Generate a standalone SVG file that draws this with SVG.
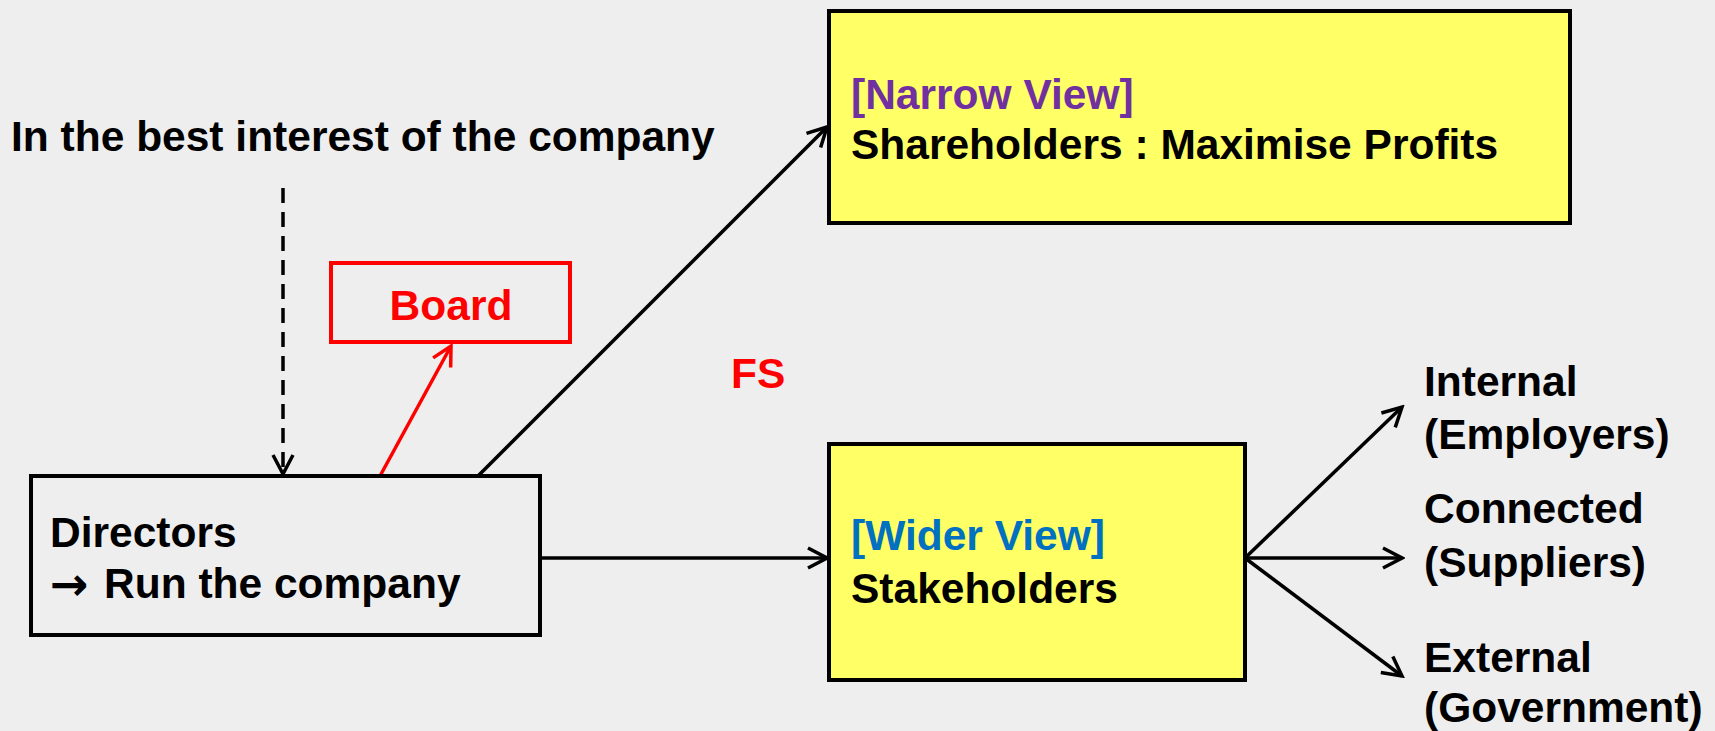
<svg xmlns="http://www.w3.org/2000/svg" width="1715" height="731" viewBox="0 0 1715 731">
<defs>
<style>
.t{font-family:"Liberation Sans",Arial,sans-serif;font-weight:bold;font-size:42.5px;fill:#000}
.box{fill:#ffff66;stroke:#000;stroke-width:4}
.wbox{fill:none;stroke:#000;stroke-width:4}
.ln{stroke:#000;stroke-width:3.5;fill:none}
</style>
<marker id="ah" viewBox="0 0 24 24" refX="21" refY="12" markerWidth="24" markerHeight="24" markerUnits="userSpaceOnUse" orient="auto">
<polyline points="2,2 21,12 2,22" fill="none" stroke="#000" stroke-width="3.5"/>
</marker>
<marker id="ahr" viewBox="0 0 24 24" refX="21" refY="12" markerWidth="24" markerHeight="24" markerUnits="userSpaceOnUse" orient="auto">
<polyline points="2,2 21,12 2,22" fill="none" stroke="#ff0000" stroke-width="3.5"/>
</marker>
</defs>
<rect width="1715" height="731" fill="#eeeeee"/>
<g id="title"><text class="t" x="11" y="151">In the best interest of the company</text></g>
<g id="connectors">
<line class="ln" x1="283" y1="188" x2="283" y2="474" stroke-dasharray="15,9" marker-end="url(#ah)"/>
<line x1="380" y1="476" x2="451" y2="346" stroke="#ff0000" stroke-width="3.5" marker-end="url(#ahr)"/>
<line class="ln" x1="478" y1="476" x2="827" y2="127" marker-end="url(#ah)"/>
<line class="ln" x1="540" y1="558" x2="827" y2="558" marker-end="url(#ah)"/>
<line class="ln" x1="1245" y1="558" x2="1402" y2="407" marker-end="url(#ah)"/>
<line class="ln" x1="1245" y1="558" x2="1402" y2="558" marker-end="url(#ah)"/>
<line class="ln" x1="1245" y1="558" x2="1402" y2="676" marker-end="url(#ah)"/>
</g>
<g id="narrow">
<rect class="box" x="829" y="11" width="741" height="212"/>
<text class="t" x="851" y="109" style="fill:#7030a0">[Narrow View]</text>
<text class="t" x="851" y="159">Shareholders : Maximise Profits</text>
</g>
<g id="board">
<rect x="331" y="263" width="239" height="79" fill="none" stroke="#ff0000" stroke-width="4"/>
<text class="t" x="451" y="320" text-anchor="middle" style="fill:#ff0000">Board</text>
</g>
<g id="fs"><text class="t" x="731" y="388" style="fill:#ff0000">FS</text></g>
<g id="directors">
<rect class="wbox" x="31" y="476" width="509" height="159"/>
<text class="t" x="50" y="547">Directors</text>
<text x="50" y="600" font-family="'DejaVu Sans',sans-serif" font-weight="bold" font-size="46">→</text>
<text class="t" x="104" y="598">Run the company</text>
</g>
<g id="wider">
<rect class="box" x="829" y="444" width="416" height="236"/>
<text class="t" x="851" y="550" style="fill:#0070c0">[Wider View]</text>
<text class="t" x="851" y="603">Stakeholders</text>
</g>
<g id="internal"><text class="t" x="1424" y="396">Internal</text><text class="t" x="1424" y="449">(Employers)</text></g>
<g id="connected"><text class="t" x="1424" y="523">Connected</text><text class="t" x="1424" y="577">(Suppliers)</text></g>
<g id="external"><text class="t" x="1424" y="672">External</text><text class="t" x="1424" y="722">(Government)</text></g>
</svg>
